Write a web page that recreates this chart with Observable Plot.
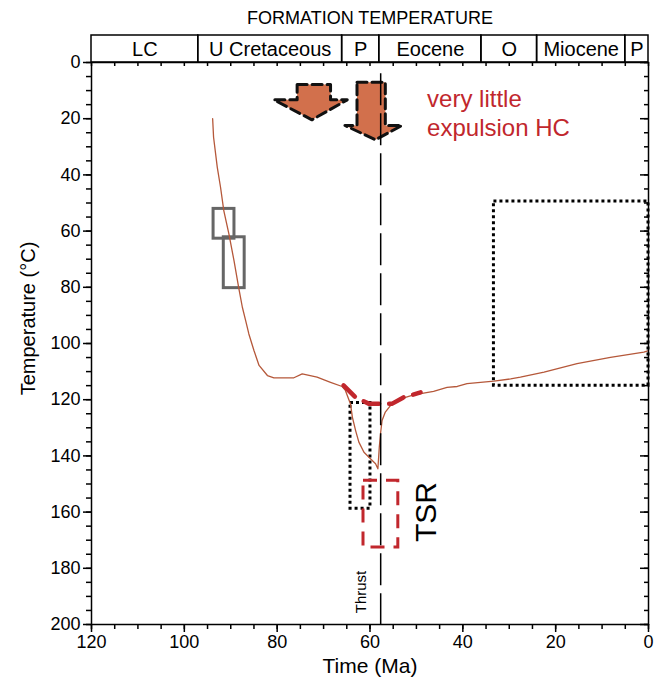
<!DOCTYPE html>
<html><head><meta charset="utf-8">
<script src="https://cdn.jsdelivr.net/npm/d3@7"></script>
<script src="https://cdn.jsdelivr.net/npm/@observablehq/plot@0.6"></script>
<style>body{margin:0;background:#fff}</style>
</head><body><div id="chart"></div>
<script>
// ---- data ----
const curveTime = [93.9,93.7,92.9,92.2,91.5,90.4,89.3,88.3,87.5,86.8,86.1,85.0,83.9,82.1,80.7,76.4,74.6,71.4,68.5,66.0,65.3,64.2,63.8,63.1,62.4,61.3,59.9,58.8,58.3,58.0,57.7,57.4,56.7,55.6,53.4,50.6,46.3,43.4,41.2,39.1,33.3,29.7,27.6,22.5,15.4,8.2,1.0,0];
const curveTemp = [20.0,26.6,37.3,44.4,52.7,61.0,70.5,80.0,87.1,91.8,96.6,102.5,107.8,111.4,112.2,112.2,110.8,112.0,113.8,115.3,116.7,121.5,126.2,131.0,135.1,138.7,141.0,142.8,144.6,136.9,131.6,127.4,124.4,122.1,119.7,118.3,117.0,115.6,115.3,114.3,113.4,112.6,112.0,110.2,107.2,104.9,103.1,102.5];

const redTime = [65.7,63.1,60.3,55.2,52.8,49.1];
const redTemp = [114.9,119.2,121.4,121.4,119.2,117.4];

const periodNames = ["LC","U Cretaceous","P","Eocene","O","Miocene","P"];
const periodStart = [120,97,66,58,36,24,5];
const periodEnd   = [97,66,58,36,24,5,0];

const grayT1 = [93.7,91.5], grayT2 = [89.2,87.0], grayY1 = [52.1,62.2], grayY2 = [62.7,80.3];
const dotT1 = [64.2,33.3], dotT2 = [59.9,0], dotY1 = [121.2,49.5], dotY2 = [158.8,115.0];
const tsrT1 = [61.4], tsrT2 = [53.9], tsrY1 = [148.8], tsrY2 = [172.6];

const arrowId   = [1,1,1,1,1,1,1, 2,2,2,2,2,2,2];
const arrowTime = [75.7,68.5,68.5,64.9,72.5,80.7,75.7, 62.8,56.7,56.7,53.1,58.8,65.4,62.8];
const arrowTemp = [7.8,7.8,13.3,13.3,20.4,13.3,13.3, 7.0,7.0,22.4,22.4,27.5,22.4,22.4];

const thrustTime = [57.7];
const thrustTop = 4, thrustBottom = 200;

const xMajor = [120,100,80,60,40,20,0];
const yMajor = [0,20,40,60,80,100,120,140,160,180,200];
const xMinor = d3.range(0,121,5);
const yMinor = d3.range(0,201,5);

// ---- layout ----
const W = 662, H = 685, mL = 91, mR = 14, mT = 62, mB = 61;
const pxX = (W - mL - mR) / 120;   // px per Ma
const pxY = (H - mT - mB) / 200;   // px per degC
const red = "#c1272d";
const font = "Liberation Sans, Arial, Helvetica, sans-serif";

const curve = curveTime.map((t,i)=>({t, T: curveTemp[i]}));
const redLine = redTime.map((t,i)=>({t, T: redTemp[i]}));
const periods = periodNames.map((n,i)=>({n, a: periodStart[i], b: periodEnd[i]}));
const gray = grayT1.map((d,i)=>({a:d, b:grayT2[i], c:grayY1[i], e:grayY2[i]}));
const dots = dotT1.map((d,i)=>({a:d, b:dotT2[i], c:dotY1[i], e:dotY2[i]}));
const tsr = tsrT1.map((d,i)=>({a:d, b:tsrT2[i], c:tsrY1[i], e:tsrY2[i]}));
const arrows = arrowId.map((id,i)=>({id, t: arrowTime[i], T: arrowTemp[i]}));
const bandTop = -27 / pxY;

const chart = Plot.plot({
  width: W, height: H,
  marginLeft: mL, marginRight: mR, marginTop: mT, marginBottom: mB,
  style: {fontFamily: font, fontSize: "18px", background: "#fff", color: "black"},
  x: {domain: [120, 0], label: null},
  y: {domain: [0, 200], reverse: true, label: null},
  marks: [
    // header band
    Plot.rect(periods, {x1: "a", x2: "b", y1: bandTop, y2: 0, stroke: "black", strokeWidth: 1.5, fill: "none"}),
    Plot.text(periods, {x: d => (d.a + d.b) / 2, y: bandTop / 2, text: "n", fontSize: 20, dy: 1}),
    Plot.text(["FORMATION TEMPERATURE"], {frameAnchor: "top", lineAnchor: "middle", textAnchor: "middle", dy: -44, fontSize: 18}),
    // boxes
    Plot.rect(gray, {x1: "a", x2: "b", y1: "c", y2: "e", stroke: "#666", strokeWidth: 3, fill: "none"}),
    Plot.rect(dots, {x1: "a", x2: "b", y1: "c", y2: "e", stroke: "black", strokeWidth: 3, strokeDasharray: "3,3", fill: "none"}),
    Plot.rect(tsr, {x1: "a", x2: "b", y1: "c", y2: "e", stroke: red, strokeWidth: 3, strokeDasharray: "14,9", fill: "none"}),
    // curve
    Plot.line(curve, {x: "t", y: "T", stroke: "#b5583a", strokeWidth: 1.3}),
    Plot.line(redLine, {x: "t", y: "T", stroke: red, strokeWidth: 4.5, strokeDasharray: "16,10"}),
    // arrows
    Plot.line(arrows, {x: "t", y: "T", z: "id", curve: "linear-closed", fill: "#d2704c", stroke: "#111", strokeWidth: 3, strokeDasharray: "10,5"}),
    // thrust
    Plot.ruleX(thrustTime, {y1: thrustTop, y2: thrustBottom, stroke: "black", strokeWidth: 1.5, strokeDasharray: "32,8"}),
    Plot.text(["Thrust"], {x: thrustTime[0] + 4.1, y: 196, rotate: -90, textAnchor: "start", fontSize: 15}),
    Plot.text(["TSR"], {x: 47.8, y: 160, rotate: -90, fontSize: 30}),
    Plot.text(["very little\nexpulsion HC"], {x: 47.7, y: 8.5, textAnchor: "start", lineAnchor: "top", fill: red, fontSize: 24, lineHeight: 1.2}),
    // frame and axes
    Plot.frame({stroke: "black", strokeWidth: 1.5}),
    Plot.axisX(xMajor, {anchor: "bottom", tickSize: 8, tickPadding: 3, fontSize: 18, label: null, strokeWidth: 1.5}),
    Plot.axisX(xMinor, {anchor: "bottom", tickSize: 5, tickFormat: () => "", label: null, strokeWidth: 1.5}),
    Plot.axisY(yMajor, {anchor: "left", tickSize: 8, tickPadding: 3, fontSize: 18, label: null, strokeWidth: 1.5}),
    Plot.axisY(yMinor, {anchor: "left", tickSize: 5, tickFormat: () => "", label: null, strokeWidth: 1.5}),
    Plot.ruleX(xMinor, {y1: 0, y2: 4 / pxY, stroke: "black", strokeWidth: 1.5}),
    Plot.ruleY(yMinor, {x1: 0, x2: 4 / pxX, stroke: "black", strokeWidth: 1.5}),
    Plot.ruleY(yMajor, {x1: 0, x2: 8 / pxX, stroke: "black", strokeWidth: 1.5}),
    Plot.text(["Time (Ma)"], {frameAnchor: "bottom", lineAnchor: "middle", textAnchor: "middle", dy: 42, fontSize: 21}),
    Plot.text(["Temperature (°C)"], {frameAnchor: "left", lineAnchor: "middle", textAnchor: "middle", dx: -63, dy: -25, rotate: -90, fontSize: 20})
  ]
});
document.getElementById("chart").appendChild(chart);
</script>
</body></html>
